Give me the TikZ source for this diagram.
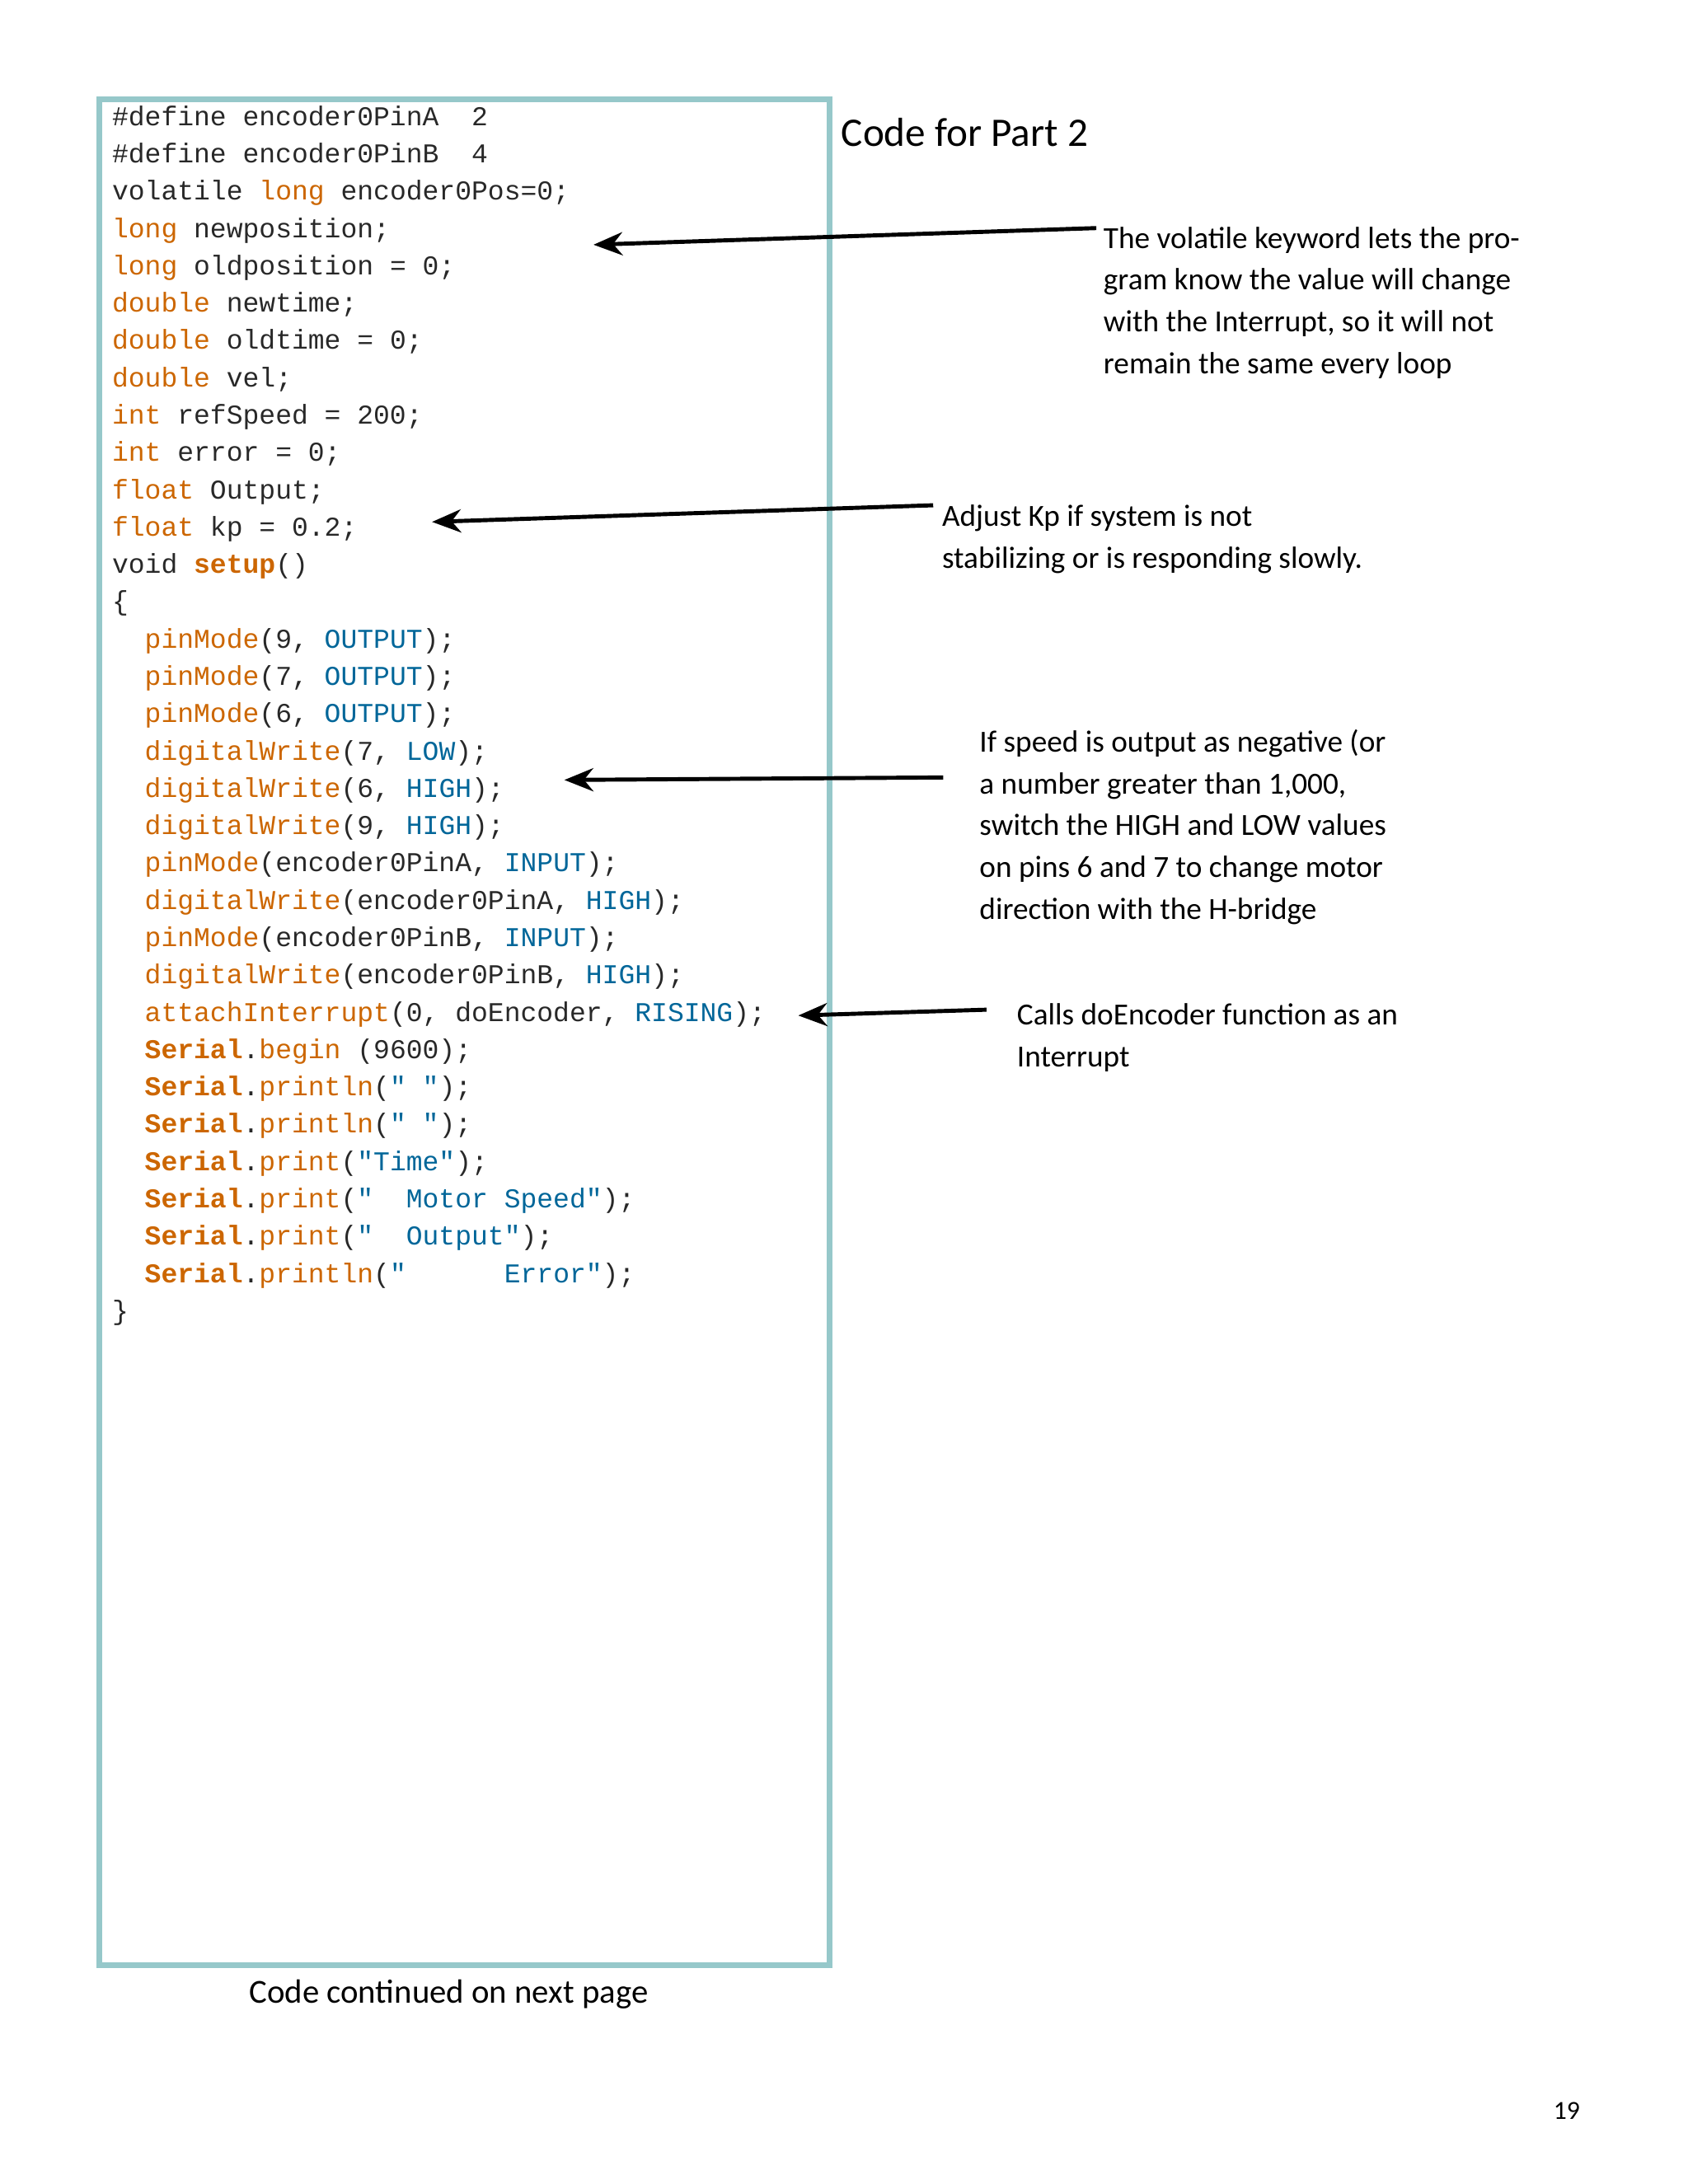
\documentclass[tikz,border=0pt]{standalone}
\usepackage{fontspec}
\setmainfont{Carlito}
\newfontfamily\codefont{Liberation Mono}
\usetikzlibrary{arrows.meta}
\definecolor{ardor}{RGB}{204,102,0}
\definecolor{ardbl}{RGB}{0,102,153}
\definecolor{boxc}{RGB}{150,200,202}
\definecolor{codetxt}{RGB}{40,40,40}
\newcommand\ko[1]{\textcolor{ardor}{#1}}
\newcommand\kB[1]{\textcolor{ardor}{\bfseries #1}}
\newcommand\kc[1]{\textcolor{ardbl}{#1}}
\begin{document}
\begin{tikzpicture}[x=0.0101cm,y=-0.0101cm,
  code/.style={anchor=west,inner sep=0,text=codetxt,font=\codefont\fontsize{9.4}{11}\selectfont},
  note/.style={anchor=north west,inner sep=0,align=left,font=\fontsize{10.6}{14.4}\selectfont},
  arr/.style={line width=1.4pt,-{Stealth[length=10pt,width=8pt]}}]
\useasboundingbox (0,0) rectangle (2027.7,2623.8);
\draw[boxc,line width=2pt] (119,119) rectangle (997,2361);
\foreach \t [count=\i from 0] in {
 {\#define encoder0PinA\ \ 2},
 {\#define encoder0PinB\ \ 4},
 {volatile \ko{long} encoder0Pos=0;},
 {\ko{long} newposition;},
 {\ko{long} oldposition = 0;},
 {\ko{double} newtime;},
 {\ko{double} oldtime = 0;},
 {\ko{double} vel;},
 {\ko{int} refSpeed = 200;},
 {\ko{int} error = 0;},
 {\ko{float} Output;},
 {\ko{float} kp = 0.2;},
 {void \kB{setup}()},
 {\{},
 {\ \ \ko{pinMode}(9, \kc{OUTPUT});},
 {\ \ \ko{pinMode}(7, \kc{OUTPUT});},
 {\ \ \ko{pinMode}(6, \kc{OUTPUT});},
 {\ \ \ko{digitalWrite}(7, \kc{LOW});},
 {\ \ \ko{digitalWrite}(6, \kc{HIGH});},
 {\ \ \ko{digitalWrite}(9, \kc{HIGH});},
 {\ \ \ko{pinMode}(encoder0PinA, \kc{INPUT});},
 {\ \ \ko{digitalWrite}(encoder0PinA, \kc{HIGH});},
 {\ \ \ko{pinMode}(encoder0PinB, \kc{INPUT});},
 {\ \ \ko{digitalWrite}(encoder0PinB, \kc{HIGH});},
 {\ \ \ko{attachInterrupt}(0, doEncoder, \kc{RISING});},
 {\ \ \kB{Serial}.\ko{begin} (9600);},
 {\ \ \kB{Serial}.\ko{println}(\kc{"\ "});},
 {\ \ \kB{Serial}.\ko{println}(\kc{"\ "});},
 {\ \ \kB{Serial}.\ko{print}(\kc{"Time"});},
 {\ \ \kB{Serial}.\ko{print}(\kc{"\ \ Motor Speed"});},
 {\ \ \kB{Serial}.\ko{print}(\kc{"\ \ Output"});},
 {\ \ \kB{Serial}.\ko{println}(\kc{"\ \ \ \ \ \ Error"});},
 {\}}}
 { \node[code] (l\i) at (134,{143+44.84*\i}) {\strut\t}; }
\node[anchor=west,inner sep=0,font=\fontsize{14}{16}\selectfont] (title) at (1010,159) {Code for Part 2};
\node[note] (n1) at (1325,272) {The volatile keyword lets the pro-\\gram know the value will change\\with the Interrupt, so it will not\\remain the same every loop};
\node[note] (n2) at (1131,606) {Adjust Kp if system is not\\stabilizing or is responding slowly.};
\node[note] (n3) at (1176,876) {If speed is output as negative (or\\a number greater than 1,000,\\switch the HIGH and LOW values\\on pins 6 and 7 to change motor\\direction with the H-bridge};
\node[note] (n4) at (1221,1205) {Calls doEncoder function as an\\Interrupt};
\coordinate (s1) at (1317,274); \coordinate (e1) at (713,294);
\coordinate (s2) at (1121,607); \coordinate (e2) at (519,627);
\coordinate (s3) at (1133,934); \coordinate (e3) at (678,937);
\coordinate (s4) at (1185,1213); \coordinate (e4) at (959,1220);
\draw[arr] (s1) -- (e1);
\draw[arr] (s2) -- (e2);
\draw[arr] (s3) -- (e3);
\draw[arr] (s4) -- (e4);
\node[inner sep=0,font=\fontsize{11.6}{14}\selectfont] (cont) at (539,2396) {Code continued on next page};
\node[inner sep=0,font=\fontsize{9}{11}\selectfont] (pg) at (1882,2536) {19};
\end{tikzpicture}
\end{document}
